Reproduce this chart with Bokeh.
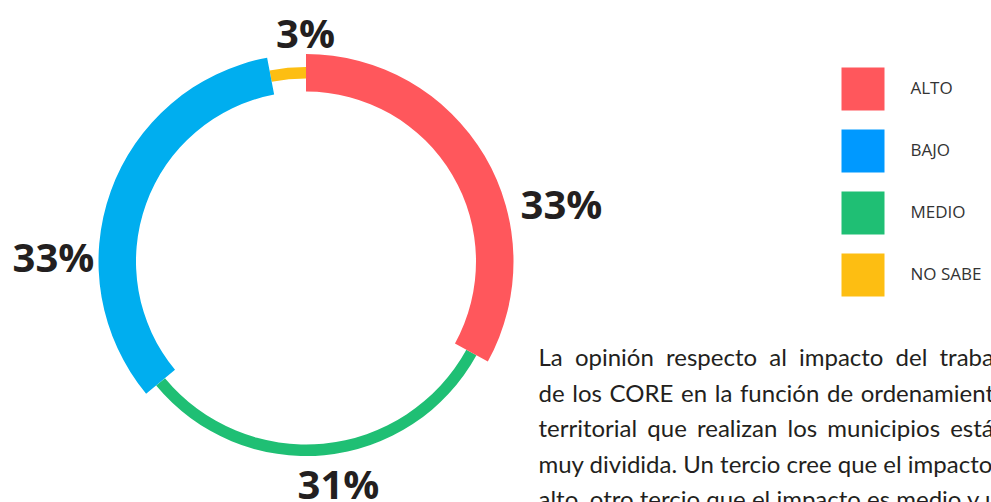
import math
from bokeh.plotting import figure
from bokeh.models import Range1d, ColumnDataSource
from bokeh.core.properties import value
from bokeh.embed import file_html
from bokeh.resources import INLINE

# ---- data ----
categories = ["ALTO", "MEDIO", "BAJO", "NO SABE"]
percent = [33, 31, 33, 3]
pct_labels = ["33%", "31%", "33%", "3%"]
legend_order = ["ALTO", "BAJO", "MEDIO", "NO SABE"]
paragraph = [
    "La opinión respecto al impacto del trabajo",
    "de los CORE en la función de ordenamiento",
    "territorial que realizan los municipios está",
    "muy dividida. Un tercio cree que el impacto es",
    "alto, otro tercio que el impacto es medio y un",
]
# extra word gap used to imitate the justified text of the original
word_gap = [" \u2005", " \u200a", " \u2006", " ", " "]

# ---- styles ----
ring_colors = {"ALTO": "#FF575C", "MEDIO": "#1FBF74", "BAJO": "#00AEEF", "NO SABE": "#FDBE12"}
legend_colors = {"ALTO": "#FF575C", "BAJO": "#0099FF", "MEDIO": "#1FBF74", "NO SABE": "#FDBE12"}
thick_cat = {"ALTO": True, "MEDIO": False, "BAJO": True, "NO SABE": False}
label_pos = {"ALTO": (561, 203), "MEDIO": (338, 483), "BAJO": (53, 256), "NO SABE": (305, 32)}

W, H = 991, 502
def Y(py):  # page pixel y -> data y
    return H - py

p = figure(width=W, height=H, output_backend="svg", toolbar_location=None,
           x_range=Range1d(0, W), y_range=Range1d(0, H),
           min_border=0)
p.axis.visible = False
p.grid.visible = False
p.outline_line_color = None
p.background_fill_color = "white"

cx, cy = 305.5, Y(261)
total = sum(percent)
starts, ends = [], []
cum = 0
for v in percent:
    starts.append(math.pi / 2 - 2 * math.pi * cum / total)
    cum += v
    ends.append(math.pi / 2 - 2 * math.pi * cum / total)

thin = dict(x=[], y=[], s=[], e=[], c=[])
thk = dict(x=[], y=[], s=[], e=[], c=[])
for cat, s, e in zip(categories, starts, ends):
    d = thk if thick_cat[cat] else thin
    d["x"].append(cx); d["y"].append(cy)
    d["s"].append(s); d["e"].append(e); d["c"].append(ring_colors[cat])

p.annular_wedge(x="x", y="y", start_angle="s", end_angle="e", color="c",
                inner_radius=183, outer_radius=194.5,
                inner_radius_units="screen", outer_radius_units="screen",
                direction="clock", line_color=None, source=ColumnDataSource(thin))
p.annular_wedge(x="x", y="y", start_angle="s", end_angle="e", color="c",
                inner_radius=170, outer_radius=207.5,
                inner_radius_units="screen", outer_radius_units="screen",
                direction="clock", line_color=None, source=ColumnDataSource(thk))

# percentage labels
lx = [label_pos[c][0] for c in categories]
ly = [Y(label_pos[c][1]) for c in categories]
p.text(x=lx, y=ly, text=pct_labels, text_font=value("Open Sans"),
       text_font_style="bold", text_font_size="40px", text_color="#231F20",
       text_align="center", text_baseline="alphabetic")

# legend
for i, cat in enumerate(legend_order):
    top = 67 + 62 * i
    p.quad(left=[841], right=[884], top=[Y(top)], bottom=[Y(top + 43)],
           color=legend_colors[cat], line_color=None)
    p.text(x=[910], y=[Y(top + 20)], text=[cat], text_font=value("Open Sans"),
           text_font_size="17px", text_color="#333333",
           text_align="left", text_baseline="alphabetic")

# paragraph
for i, (line, gap) in enumerate(zip(paragraph, word_gap)):
    txt = line.replace(" ", gap.replace(" ", "\u00a0"))
    p.text(x=[538], y=[Y(356 + 35.5 * i)], text=[txt], text_font=value("Lato"),
           text_font_size="24px", text_color="#231F20",
           text_align="left", text_baseline="alphabetic")

open("out.html", "w").write(file_html(p, INLINE))
